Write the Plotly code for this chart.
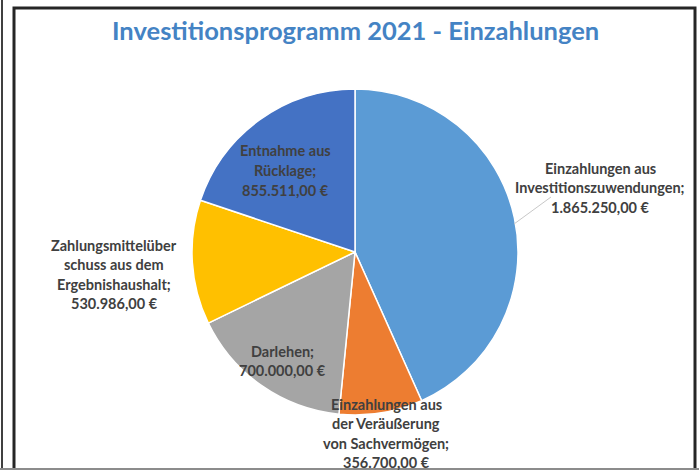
import plotly.graph_objects as go

W, H = 699, 470

# ---- data ----
categories = [
    "Einzahlungen aus Investitionszuwendungen",
    "Einzahlungen aus der Veräußerung von Sachvermögen",
    "Darlehen",
    "Zahlungsmittelüberschuss aus dem Ergebnishaushalt",
    "Entnahme aus Rücklage",
]
values = [1865250.00, 356700.00, 700000.00, 530986.00, 855511.00]
label_lines = [
    ["Einzahlungen aus", "Investitionszuwendungen;"],
    ["Einzahlungen aus", "der Veräußerung", "von Sachvermögen;"],
    ["Darlehen;"],
    ["Zahlungsmittelüber", "schuss aus dem", "Ergebnishaushalt;"],
    ["Entnahme aus", "Rücklage;"],
]
colors = ["#5B9BD5", "#ED7D31", "#A5A5A5", "#FFC000", "#4472C4"]
title_text = "Investitionsprogramm 2021 - Einzahlungen"


def fmt_eur(v):
    s = f"{v:,.2f}"
    s = s.replace(",", "X").replace(".", ",").replace("X", ".")
    return s + " €"


def px_x(x):
    return x / W


def px_y(y):
    return 1 - y / H


# pie geometry (pixels)
cx, cy, r = 355, 252, 163

fig = go.Figure(
    go.Pie(
        labels=categories,
        values=values,
        sort=False,
        direction="clockwise",
        rotation=0,
        marker=dict(colors=colors, line=dict(color="white", width=1.5)),
        textinfo="none",
        hoverinfo="label+value",
        showlegend=False,
        domain=dict(x=[px_x(cx - r), px_x(cx + r)], y=[px_y(cy + r), px_y(cy - r)]),
    )
)

# label block centres (pixels) and line spacing
label_pos = [(600, 168), (386, 404), (282, 351), (114, 245), (285, 151)]
line_gap = 19.5
annotations = []
for lines, v, (lx, ly) in zip(label_lines, values, label_pos):
    all_lines = lines + [fmt_eur(v)]
    for i, t in enumerate(all_lines):
        annotations.append(dict(
            x=px_x(lx), y=px_y(ly + i * line_gap), xref="paper", yref="paper",
            text="<b>" + t + "</b>", showarrow=False, xanchor="center", yanchor="middle",
            font=dict(family="Lato", size=14.5, color="#404040"),
        ))

annotations.append(dict(
    x=px_x(355), y=px_y(30), xref="paper", yref="paper", text="<b>" + title_text + "</b>",
    showarrow=False, xanchor="center", yanchor="middle",
    font=dict(family="Lato", size=25.5, color="#4483C4"),
))

shapes = [
    # outer chart frame
    dict(type="rect", xref="paper", yref="paper",
         x0=px_x(14), x1=px_x(695), y0=px_y(472), y1=px_y(8),
         line=dict(color="#262626", width=3)),
    dict(type="line", xref="paper", yref="paper",
         x0=px_x(2), x1=px_x(2), y0=0, y1=1,
         line=dict(color="#404040", width=2)),
    dict(type="line", xref="paper", yref="paper",
         x0=0, x1=1, y0=px_y(469), y1=px_y(469),
         line=dict(color="#8c8c8c", width=2)),
    # leader line for first label
    dict(type="line", xref="paper", yref="paper",
         x0=px_x(514), x1=px_x(551), y0=px_y(224), y1=px_y(197),
         line=dict(color="#c8c8c8", width=1)),
]

fig.update_layout(
    width=W, height=H,
    margin=dict(l=0, r=0, t=0, b=0),
    paper_bgcolor="white", plot_bgcolor="white",
    annotations=annotations, shapes=shapes,
)

fig.write_html(
    "out.html",
    config={"displayModeBar": False},
    post_script="document.body.style.margin='0';document.body.style.overflow='hidden';",
)
